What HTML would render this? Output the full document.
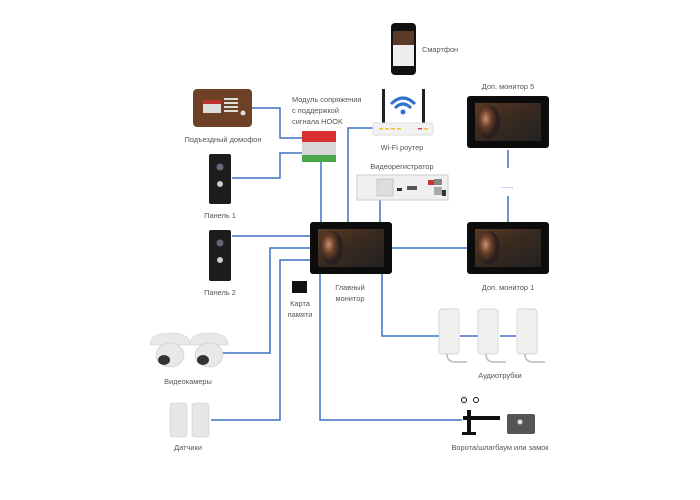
<!DOCTYPE html>
<html><head><meta charset="utf-8"><style>
html,body{margin:0;padding:0;background:#fff;}
svg{display:block;}
text{font-family:"Liberation Sans",sans-serif;font-size:7.4px;fill:#555;}
</style></head><body>
<svg width="700" height="500" viewBox="0 0 700 500" xmlns="http://www.w3.org/2000/svg">
<defs>
<linearGradient id="scr" x1="0" y1="0" x2="1" y2="1">
<stop offset="0" stop-color="#5a3a22"/><stop offset="0.45" stop-color="#3a2a20"/><stop offset="1" stop-color="#222"/>
</linearGradient>
<radialGradient id="face" cx="0.35" cy="0.4" r="0.5">
<stop offset="0" stop-color="#c89070"/><stop offset="0.5" stop-color="#6a4028"/><stop offset="1" stop-color="#2a2020"/>
</radialGradient>
</defs>
<g fill="none" stroke="#3d72c2" stroke-width="1.5">
<polyline points="252,108 280,108 280,138 303,138"/>
<polyline points="232,178 280,178 280,153 303,153"/>
<line x1="321" y1="162" x2="321" y2="222"/>
<polyline points="373,128 348,128 348,222"/>
<line x1="380" y1="200" x2="380" y2="222"/>
<line x1="232" y1="236" x2="310" y2="236"/>
<polyline points="310,248 270,248 270,353 223,353"/>
<polyline points="310,260 280,260 280,420 211,420"/>
<polyline points="320,274 320,420 462,420"/>
<polyline points="382,274 382,336 440,336"/>
<line x1="460" y1="336" x2="478" y2="336"/>
<line x1="500" y1="336" x2="516" y2="336"/>
<line x1="392" y1="248" x2="467" y2="248"/>
<line x1="508" y1="150" x2="508" y2="168"/>
<line x1="508" y1="196" x2="508" y2="222"/>
</g>
<text x="501" y="188" style="fill:#3d72c2">......</text>

<rect x="193" y="89" width="59" height="38" rx="4" fill="#6e4024"/>
<rect x="203" y="100" width="18" height="4" fill="#c03030"/>
<rect x="203" y="104" width="18" height="9" fill="#ddd"/>
<g fill="#ddd"><rect x="224" y="98" width="14" height="2"/><rect x="224" y="102" width="14" height="2"/><rect x="224" y="106" width="14" height="2"/><rect x="224" y="110" width="14" height="2"/></g>
<circle cx="243" cy="113" r="2.5" fill="#ddd"/>
<text x="223" y="142" text-anchor="middle">Подъездный домофон</text>

<rect x="302" y="131" width="34" height="11" fill="#d93030"/>
<rect x="302" y="142" width="34" height="13" fill="#d8d8d8"/>
<rect x="302" y="155" width="34" height="7" fill="#4aa84a"/>
<text x="292" y="102">Модуль сопряжения</text>
<text x="292" y="113">с поддержкой</text>
<text x="292" y="124">сигнала HOOK</text>

<rect x="209" y="154" width="22" height="50" rx="2" fill="#1c1c1c"/>
<circle cx="220" cy="167" r="3.5" fill="#667"/><circle cx="220" cy="184" r="3" fill="#ccc"/>
<text x="220" y="218" text-anchor="middle">Панель 1</text>
<rect x="209" y="230" width="22" height="51" rx="2" fill="#1c1c1c"/>
<circle cx="220" cy="243" r="3.5" fill="#667"/><circle cx="220" cy="260" r="3" fill="#ccc"/>
<text x="220" y="295" text-anchor="middle">Панель 2</text>

<rect x="391" y="23" width="25" height="52" rx="4" fill="#111"/>
<rect x="393" y="31" width="21" height="35" fill="#eee"/>
<rect x="393" y="31" width="21" height="14" fill="#5a3a28"/>
<text x="422" y="52">Смартфон</text>

<rect x="382" y="89" width="3" height="35" fill="#222"/><rect x="422" y="89" width="3" height="35" fill="#222"/>
<g fill="none" stroke="#2f6fd0" stroke-width="3"><path d="M391,104 Q403,92 415,104"/><path d="M395,108 Q403,100 411,108"/></g>
<circle cx="403" cy="112" r="2.5" fill="#2f6fd0"/>
<rect x="373" y="123" width="60" height="12" rx="2" fill="#f2f2f2" stroke="#ddd"/>
<g fill="#f0c030"><rect x="379" y="128" width="4" height="1.5"/><rect x="385" y="128" width="4" height="1.5"/><rect x="391" y="128" width="4" height="1.5"/><rect x="397" y="128" width="4" height="1.5"/></g>
<rect x="418" y="128" width="4" height="1.5" fill="#e04060"/><rect x="424" y="128" width="4" height="1.5" fill="#f0c030"/>
<text x="402" y="150" text-anchor="middle">Wi-Fi роутер</text>
<text x="402" y="169" text-anchor="middle">Видеорегистратор</text>

<rect x="357" y="175" width="91" height="25" fill="#f0f0f0" stroke="#ccc"/>
<rect x="377" y="179" width="16" height="17" fill="#ddd" stroke="#aaa" stroke-width="0.5"/>
<rect x="397" y="188" width="5" height="3" fill="#333"/><rect x="407" y="186" width="10" height="4" fill="#555"/>
<rect x="428" y="180" width="6" height="5" fill="#c33"/><rect x="434" y="179" width="8" height="6" fill="#888"/><rect x="434" y="187" width="8" height="8" fill="#aaa"/><rect x="442" y="190" width="4" height="6" fill="#333"/>

<g>
<rect x="310" y="222" width="82" height="52" rx="3" fill="#0c0c0c"/>
<rect x="318" y="229" width="66" height="38" fill="url(#scr)"/>
<ellipse cx="332" cy="248" rx="11" ry="17" fill="url(#face)"/>
</g>
<g>
<rect x="467" y="222" width="82" height="52" rx="3" fill="#0c0c0c"/>
<rect x="475" y="229" width="66" height="38" fill="url(#scr)"/>
<ellipse cx="489" cy="248" rx="11" ry="17" fill="url(#face)"/>
</g>
<g>
<rect x="467" y="96" width="82" height="52" rx="3" fill="#0c0c0c"/>
<rect x="475" y="103" width="66" height="38" fill="url(#scr)"/>
<ellipse cx="489" cy="122" rx="11" ry="17" fill="url(#face)"/>
</g>
<text x="508" y="89" text-anchor="middle">Доп. монитор 5</text>
<text x="508" y="290" text-anchor="middle">Доп. монитор 1</text>
<text x="350" y="290" text-anchor="middle">Главный</text>
<text x="350" y="301" text-anchor="middle">монитор</text>

<rect x="292" y="281" width="15" height="12" fill="#111"/>
<text x="300" y="306" text-anchor="middle">Карта</text>
<text x="300" y="317" text-anchor="middle">памяти</text>

<g fill="#e8e8e8" stroke="#ccc" stroke-width="0.6">
<path d="M150,345 Q150,333 170,333 Q190,333 190,345 Z"/><ellipse cx="170" cy="355" rx="14" ry="12"/>
<path d="M190,345 Q190,333 209,333 Q228,333 228,345 Z"/><ellipse cx="209" cy="355" rx="14" ry="12"/>
</g>
<ellipse cx="164" cy="360" rx="6" ry="5" fill="#333"/><ellipse cx="203" cy="360" rx="6" ry="5" fill="#333"/>
<text x="188" y="384" text-anchor="middle">Видеокамеры</text>

<rect x="170" y="403" width="17" height="34" rx="3" fill="#e6e6e6" stroke="#ccc" stroke-width="0.6"/>
<rect x="192" y="403" width="17" height="34" rx="3" fill="#e6e6e6" stroke="#ccc" stroke-width="0.6"/>
<text x="188" y="450" text-anchor="middle">Датчики</text>

<g fill="#f0f0f0" stroke="#ccc" stroke-width="0.7">
<rect x="439" y="309" width="20" height="45" rx="3"/><rect x="478" y="309" width="20" height="45" rx="3"/><rect x="517" y="309" width="20" height="45" rx="3"/>
</g>
<g fill="none" stroke="#bbb" stroke-width="1.5">
<path d="M447,354 q0,8 8,8 h12"/><path d="M486,354 q0,8 8,8 h12"/><path d="M525,354 q0,8 8,8 h12"/>
</g>
<text x="500" y="378" text-anchor="middle">Аудиотрубки</text>

<rect x="467" y="410" width="4" height="24" fill="#111"/>
<rect x="462" y="432" width="14" height="3" fill="#111"/>
<circle cx="464" cy="400" r="2.5" fill="none" stroke="#111"/><circle cx="476" cy="400" r="2.5" fill="none" stroke="#111"/>
<rect x="463" y="416" width="37" height="4" fill="#111"/>
<rect x="507" y="414" width="28" height="20" rx="2" fill="#555"/>
<circle cx="520" cy="422" r="2.5" fill="#ddd"/>
<text x="500" y="450" text-anchor="middle">Ворота/шлагбаум или замок</text>
</svg>
</body></html>
